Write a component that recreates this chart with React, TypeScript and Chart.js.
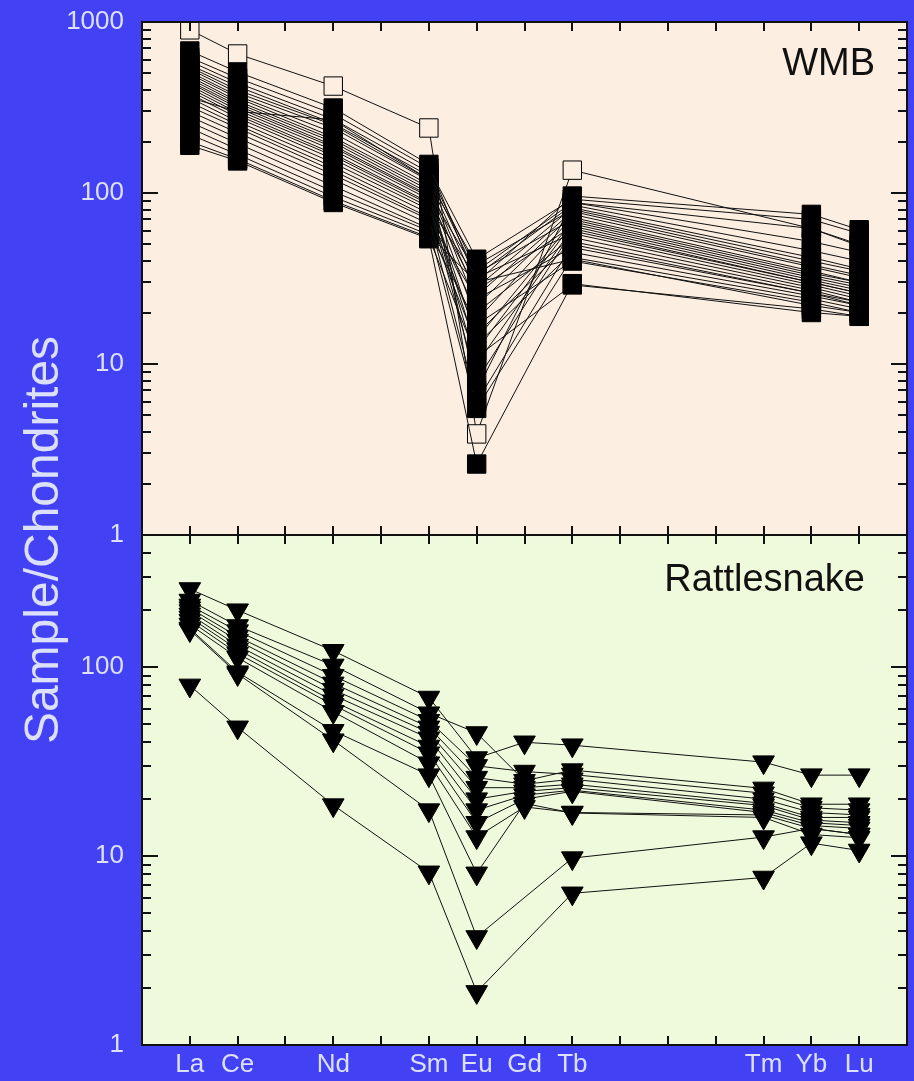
import React, { useEffect, useRef } from 'react';
import { Chart, registerables } from 'chart.js';

Chart.register(...registerables);

// ---------- data ----------
const ATOMIC_NUMBERS: Record<string, number> = {
  La: 57, Ce: 58, Pr: 59, Nd: 60, Pm: 61, Sm: 62, Eu: 63, Gd: 64,
  Tb: 65, Dy: 66, Ho: 67, Er: 68, Tm: 69, Yb: 70, Lu: 71,
};

const X_TICK_LABELS = ['La', 'Ce', 'Nd', 'Sm', 'Eu', 'Gd', 'Tb', 'Tm', 'Yb', 'Lu'];
const WMB_ELEMENTS = ['La', 'Ce', 'Nd', 'Sm', 'Eu', 'Tb', 'Yb', 'Lu'];
const RS_ELEMENTS = ['La', 'Ce', 'Nd', 'Sm', 'Eu', 'Gd', 'Tb', 'Tm', 'Yb', 'Lu'];

const WMB_TICK_LABELS = [1, 10, 100, 1000];
const RS_TICK_LABELS = [1, 10, 100];

// WMB samples (La, Ce, Nd, Sm, Eu, Tb, Yb, Lu), filled squares
const WMB_FILLED: number[][] = [
  [677, 510, 314, 147, 30, 96, 75, 61],
  [620, 470, 290, 140, 41, 92, 70, 58],
  [590, 440, 270, 132, 35, 88, 52, 45],
  [560, 420, 255, 126, 33, 85, 46, 40],
  [545, 400, 250, 120, 28, 82, 42, 36],
  [530, 385, 240, 118, 38, 80, 40, 35],
  [510, 370, 225, 112, 25, 78, 38, 33],
  [495, 360, 212, 108, 22, 75, 37, 32],
  [480, 345, 205, 104, 18, 72, 35, 30],
  [465, 335, 198, 100, 34, 70, 34, 30],
  [450, 325, 190, 97, 14, 68, 33, 29],
  [440, 315, 185, 95, 12, 66, 32, 28],
  [425, 305, 178, 92, 27, 64, 31, 27],
  [410, 295, 170, 88, 10, 62, 30, 26],
  [395, 285, 165, 86, 8, 60, 30, 26],
  [380, 275, 158, 83, 32, 58, 29, 25],
  [360, 262, 150, 80, 20, 55, 28, 24],
  [340, 250, 142, 76, 15, 52, 27, 23],
  [320, 240, 135, 72, 6, 50, 26, 23],
  [300, 225, 128, 70, 24, 48, 26, 22],
  [280, 210, 120, 66, 13, 45, 25, 22],
  [260, 195, 110, 62, 5.5, 42, 24, 21],
  [240, 180, 102, 60, 17, 40, 23, 20],
  [220, 168, 95, 57, 30, 41, 22, 20],
  [200, 158, 90, 55, 11, 29, 21, 19],
  [190, 154, 88, 54, 2.6, 29.5, 20, 19],
  [360, 300, 268, 120, 7, 88, 62, 50],
];

// WMB sample drawn with open squares
const WMB_OPEN: number[] = [900, 650, 422, 240, 3.9, 136, 62, 49];

// Rattlesnake samples (La, Ce, Nd, Sm, Eu, Gd, Tb, Tm, Yb, Lu)
const RS_SAMPLES: (number | null)[][] = [
  [259, 200, 122, 69, 33, 40, 38.6, 31.4, 26.8, 26.8],
  [225, 165, 102, 57, 44.8, 25, 28.5, 22.8, 18.8, 18.8],
  [212, 155, 90, 52, 30, 28, 27, 21.5, 18, 17.5],
  [205, 145, 82, 48, 26, 24, 25.5, 20, 17, 16.5],
  [198, 138, 76, 45, 23, 23, 24, 19, 16, 16],
  [190, 130, 71, 42, 20, 22, 23, 18.5, 15.5, 15],
  [183, 124, 66, 38, 17.5, 21, 22.3, 17.5, 15, 14.5],
  [176, 118, 63, 35, 15, 20, 22, 17, 14.5, 14],
  [168, 112, 58, 31, 12.6, 18.2, 17, 16.5, 14, 13],
  [160, 94, 46, 26.8, 8.1, 19, 16.9, 16, 13, 12.5],
  [157, 92, 41, 17.5, 3.73, null, 9.75, 12.6, 14, 13],
  [80, 48, 18.6, 8.2, 1.91, null, 6.35, 7.7, 11.7, 10.7],
];

// ---------- styles ----------
const PAGE_BG = '#4242F4';
const TOP_BG = '#FCEEE1';
const BOT_BG = '#EFFADC';
const LABEL_COLOR = '#DCE0FF';
const INK = '#111111';
const FONT = "'Liberation Sans', Arial, sans-serif";

const toPoints = (els: string[], row: (number | null)[]) =>
  els
    .map((e, i) => (row[i] == null ? null : { x: ATOMIC_NUMBERS[e], y: row[i] as number }))
    .filter((p) => p !== null) as { x: number; y: number }[];

const isLabel = (list: number[], v: number) => list.some((l) => Math.abs(v - l) < 1e-6 * l);

const noPad = (s: any) => {
  s.paddingTop = 0;
  s.paddingBottom = 0;
  s.paddingLeft = 0;
  s.paddingRight = 0;
};

const panelPlugin = {
  id: 'panels',
  beforeDraw(chart: any) {
    const { ctx, chartArea } = chart;
    const yt = chart.scales.yTop;
    const yb = chart.scales.yBot;
    const w = chartArea.right - chartArea.left;
    ctx.save();
    ctx.fillStyle = PAGE_BG;
    ctx.fillRect(0, 0, chart.width, chart.height);
    ctx.fillStyle = TOP_BG;
    ctx.fillRect(chartArea.left, yt.top, w, yt.bottom - yt.top);
    ctx.fillStyle = BOT_BG;
    ctx.fillRect(chartArea.left, yb.top, w, yb.bottom - yb.top);
    ctx.restore();
  },
  afterDatasetsDraw(chart: any) {
    const { ctx, chartArea } = chart;
    const xs = chart.scales.x;
    const left = chartArea.left;
    const right = chartArea.right;
    ctx.save();
    ctx.strokeStyle = INK;
    ctx.lineWidth = 2;
    ['yTop', 'yBot'].forEach((id) => {
      const s = chart.scales[id];
      ctx.beginPath();
      const lo = Math.floor(Math.log10(s.min));
      const hi = Math.ceil(Math.log10(s.max));
      for (let d = lo; d <= hi; d++) {
        for (let m = 1; m <= 9; m++) {
          const v = m * Math.pow(10, d);
          if (v < s.min - 1e-9 || v > s.max + 1e-9) continue;
          const y = Math.round(s.getPixelForValue(v));
          const len = m === 1 ? 16 : 9;
          ctx.moveTo(left, y);
          ctx.lineTo(left + len, y);
          ctx.moveTo(right - len, y);
          ctx.lineTo(right, y);
        }
      }
      for (let n = 57; n <= 71; n++) {
        const x = Math.round(xs.getPixelForValue(n));
        ctx.moveTo(x, s.bottom);
        ctx.lineTo(x, s.bottom - 9);
        ctx.moveTo(x, s.top);
        ctx.lineTo(x, s.top + 9);
      }
      ctx.stroke();
      ctx.strokeRect(left, s.top, right - left, s.bottom - s.top);
    });
    ctx.restore();
  },
  afterDraw(chart: any) {
    const { ctx, chartArea } = chart;
    const yt = chart.scales.yTop;
    const yb = chart.scales.yBot;
    ctx.save();
    ctx.fillStyle = LABEL_COLOR;
    ctx.font = `48px ${FONT}`;
    ctx.textAlign = 'center';
    ctx.textBaseline = 'middle';
    ctx.translate(45, 540);
    ctx.rotate(-Math.PI / 2);
    ctx.fillText('Sample/Chondrites', 0, 0);
    ctx.restore();

    ctx.save();
    ctx.fillStyle = INK;
    ctx.font = `38px ${FONT}`;
    ctx.textAlign = 'right';
    ctx.textBaseline = 'middle';
    ctx.fillText('WMB', chartArea.right - 32, yt.top + 43);
    ctx.fillText('Rattlesnake', chartArea.right - 42, yb.top + 46);
    ctx.restore();
  },
};

export default function App() {
  const ref = useRef<HTMLCanvasElement | null>(null);

  useEffect(() => {
    if (!ref.current) return;
    const baseLine = {
      type: 'line' as const,
      borderColor: INK,
      borderWidth: 1,
      fill: false,
      tension: 0,
      pointBorderColor: '#000',
      pointBorderWidth: 1,
    };
    const datasets: any[] = [];
    WMB_FILLED.forEach((row) => {
      datasets.push({
        ...baseLine,
        yAxisID: 'yTop',
        data: toPoints(WMB_ELEMENTS, row),
        pointStyle: 'rect',
        pointRadius: 13,
        pointBackgroundColor: '#000',
      });
    });
    datasets.push({
      ...baseLine,
      yAxisID: 'yTop',
      data: toPoints(WMB_ELEMENTS, WMB_OPEN),
      pointStyle: 'rect',
      pointRadius: 13,
      pointBackgroundColor: TOP_BG,
    });
    RS_SAMPLES.forEach((row) => {
      datasets.push({
        ...baseLine,
        yAxisID: 'yBot',
        data: toPoints(RS_ELEMENTS, row),
        pointStyle: 'triangle',
        pointRotation: 180,
        pointRadius: 12.5,
        pointBackgroundColor: '#000',
      });
    });

    const yTicks = (labels: number[]) => ({
      autoSkip: false,
      padding: 18,
      color: LABEL_COLOR,
      font: { family: FONT, size: 26 },
      callback: (v: any) => (isLabel(labels, Number(v)) ? String(Math.round(Number(v))) : ''),
    });

    const chart = new Chart(ref.current, {
      type: 'line',
      data: { datasets },
      options: {
        animation: false,
        responsive: false,
        devicePixelRatio: 1,
        events: [],
        layout: { autoPadding: false, padding: { left: 0, top: 22, right: 7, bottom: 0 } },
        plugins: { legend: { display: false }, tooltip: { enabled: false } },
        scales: {
          x: {
            type: 'linear',
            position: 'bottom',
            min: 56,
            max: 72,
            grid: { display: false, drawTicks: false },
            border: { display: false },
            afterBuildTicks: (s: any) => {
              s.ticks = X_TICK_LABELS.map((e) => ({ value: ATOMIC_NUMBERS[e] }));
            },
            afterFit: (s: any) => {
              s.height = 36;
              noPad(s);
            },
            ticks: {
              autoSkip: false,
              maxRotation: 0,
              minRotation: 0,
              padding: 4,
              color: LABEL_COLOR,
              font: { family: FONT, size: 26 },
              callback: (v: any) => X_TICK_LABELS.find((e) => ATOMIC_NUMBERS[e] === Number(v)) || '',
            },
          },
          yBot: {
            type: 'logarithmic',
            position: 'left',
            stack: 'ree',
            stackWeight: 510,
            min: 1,
            max: 500,
            grid: { display: false, drawTicks: false },
            border: { display: false },
            afterFit: (s: any) => {
              s.width = 142;
              noPad(s);
            },
            ticks: yTicks(RS_TICK_LABELS),
          },
          yTop: {
            type: 'logarithmic',
            position: 'left',
            stack: 'ree',
            stackWeight: 513,
            min: 1,
            max: 1000,
            grid: { display: false, drawTicks: false },
            border: { display: false },
            afterFit: (s: any) => {
              s.width = 142;
              noPad(s);
            },
            ticks: yTicks(WMB_TICK_LABELS),
          },
        } as any,
      },
      plugins: [panelPlugin as any],
    });
    return () => chart.destroy();
  }, []);

  return (
    <div style={{ position: 'fixed', left: 0, top: 0, width: 914, height: 1081, background: PAGE_BG }}>
      <canvas ref={ref} width={914} height={1081} style={{ display: 'block', width: 914, height: 1081 }} />
    </div>
  );
}
